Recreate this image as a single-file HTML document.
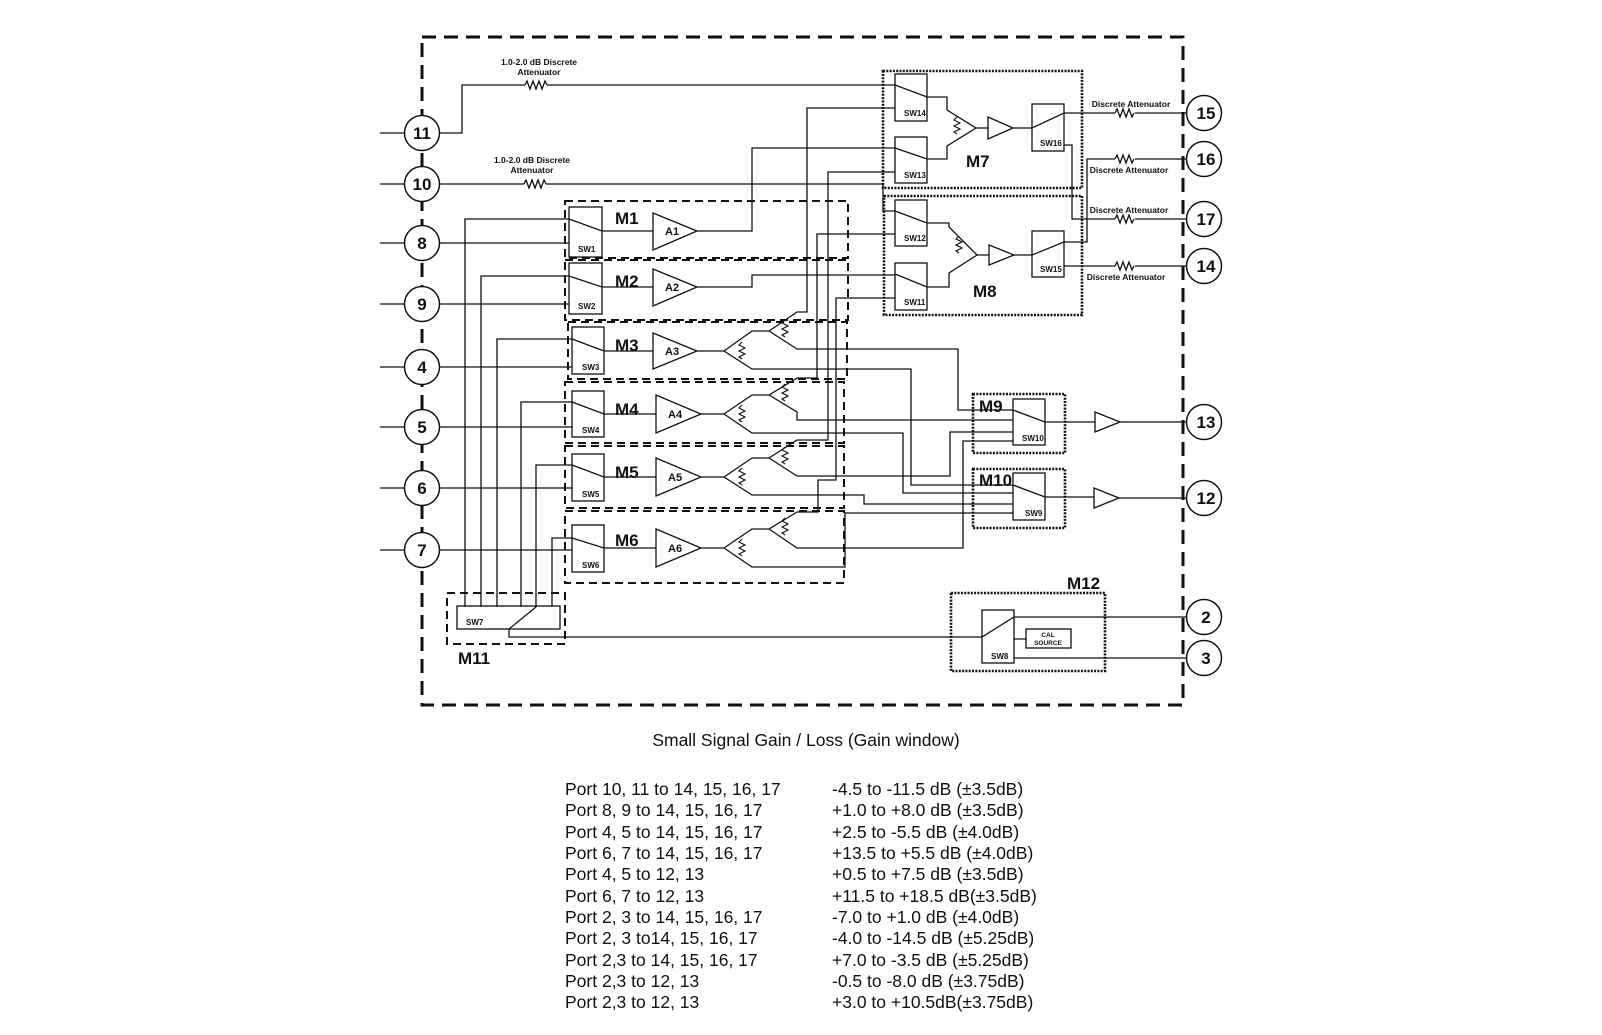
<!DOCTYPE html>
<html><head><meta charset="utf-8"><style>
html,body{margin:0;padding:0;background:#fff;}
svg{display:block;}
text{font-family:"Liberation Sans",Arial,sans-serif;fill:#111;}
.b{font-weight:bold;}
</style></head><body>
<svg width="1602" height="1035" viewBox="0 0 1602 1035" xmlns="http://www.w3.org/2000/svg">
<defs>
<g id="zzv"><path d="M0,0 l-3,3 l6,3 l-6,3 l6,3 l-6,3 l3,2" fill="none" stroke="#111" stroke-width="1.1"/></g>
</defs>
<g fill="none" stroke="#111" stroke-width="1.3">
<rect x="422" y="37" width="761" height="668" stroke-width="3" stroke-dasharray="14 8"/>
<g stroke-width="2" stroke-dasharray="8 5">
<rect x="565" y="201" width="283" height="57"/>
<rect x="565" y="260" width="283" height="60"/>
<rect x="568" y="322" width="279" height="57"/>
<rect x="565" y="382" width="279" height="61"/>
<rect x="565" y="446" width="279" height="62"/>
<rect x="565" y="511" width="279" height="72"/>
<rect x="447" y="593" width="118" height="51"/>
</g>
<g stroke-width="2.6" stroke-dasharray="2 1.3">
<rect x="883" y="71" width="199" height="117"/>
<rect x="884" y="196" width="198" height="119"/>
<rect x="973" y="394" width="92" height="59"/>
<rect x="973" y="469" width="92" height="59"/>
<rect x="951" y="593" width="154" height="78"/>
</g>
<path d="M380,133H404 M380,184H404 M380,243H404 M380,304H404 M380,367H404 M380,427H404 M380,488H404 M380,550H404"/>
<path d="M440,133H462V85H525 M547,85H895"/>
<path d="M525,85 l2,-4 l3,8 l3,-8 l3,8 l3,-8 l3,8 l3,-8 l2,4"/>
<path d="M440,184H524 M546,184H883V211H895"/>
<path d="M524,184 l2,-4 l3,8 l3,-8 l3,8 l3,-8 l3,8 l3,-8 l2,4"/>
<path d="M440,243H569 M440,304H569 M440,367H572 M440,427H572 M440,488H572 M440,550H572"/>
<path d="M465,607V219H569 M481,607V276H569 M497,607V339H572 M521,607V402H572 M536,607V465H572 M552,607V538H572"/>
<rect x="569" y="207" width="33" height="50"/>
<rect x="569" y="263" width="33" height="51"/>
<rect x="572" y="327" width="32" height="47"/>
<rect x="572" y="391" width="32" height="46"/>
<rect x="572" y="454" width="32" height="47"/>
<rect x="572" y="525" width="32" height="47"/>
<path d="M569,219L602,231H653 M569,276L602,287H653 M572,339L604,351H653 M572,402L604,414H656 M572,465L604,477H656 M572,538L604,548H656"/>
<path d="M653,213L697,231L653,250Z M653,269L697,287L653,306Z M653,333L697,351L653,369Z M656,395L701,414L656,433Z M656,458L701,477L656,496Z M656,529L701,548L656,567Z"/>
<path d="M697,231H752V148H895 M697,287H752V275H895"/>
<path d="M697,351H724 M724,351L752,331H769L797,312H807V108H895 M724,351L752,369H911V485H1013 M769,331L797,349H958V410H1013"/>
<path d="M701,414H724 M724,414L752,395H769L797,378H817V234H895 M724,414L752,433H903V493H1013 M769,395L797,412V420H1013"/>
<path d="M701,477H724 M724,477L752,458H769L797,440H828V172H895 M724,477L752,495H864V504H1013 M769,458L797,476H950V432H1013"/>
<path d="M701,548H724 M724,548L752,529H769L797,512H818V480H836V298H895 M724,548L752,567H845V513H1013 M769,529L797,548H963V441H1013"/>
<use href="#zzv" x="742" y="342"/><use href="#zzv" x="785" y="320"/>
<use href="#zzv" x="742" y="405"/><use href="#zzv" x="785" y="384"/>
<use href="#zzv" x="742" y="468"/><use href="#zzv" x="785" y="447"/>
<use href="#zzv" x="742" y="539"/><use href="#zzv" x="785" y="518"/>
<rect x="895" y="74" width="32" height="47"/>
<rect x="895" y="137" width="32" height="46"/>
<path d="M895,85L927,97H947V110L976,128L947,146V159H927L895,148"/>
<use href="#zzv" x="957" y="117"/>
<path d="M976,128H988 M988,117L1013,128L988,139Z M1013,128H1032L1064,113H1115 M1135,113H1186"/>
<path d="M1115,113 l2,-4 l3,8 l3,-8 l3,8 l3,-8 l3,8 l2,-4"/>
<rect x="1032" y="104" width="32" height="47"/>
<path d="M1064,145H1072V219H1115 M1135,219H1186"/>
<path d="M1115,219 l2,-4 l3,8 l3,-8 l3,8 l3,-8 l3,8 l2,-4"/>
<rect x="895" y="200" width="32" height="46"/>
<rect x="895" y="263" width="32" height="47"/>
<path d="M895,211L927,223H949V227L977,255L949,273V287H927L895,274"/>
<use href="#zzv" x="959" y="236"/>
<path d="M977,255H989 M989,245L1014,255L989,265Z M1014,255H1032L1064,242H1087V159H1115 M1135,159H1186"/>
<path d="M1115,159 l2,-4 l3,8 l3,-8 l3,8 l3,-8 l3,8 l2,-4"/>
<rect x="1032" y="231" width="32" height="46"/>
<path d="M1064,266H1115 M1135,266H1186"/>
<path d="M1115,266 l2,-4 l3,8 l3,-8 l3,8 l3,-8 l3,8 l2,-4"/>
<rect x="1013" y="399" width="32" height="46"/>
<rect x="1013" y="473" width="32" height="47"/>
<path d="M1013,410L1045,422H1095 M1095,412L1120,422L1095,432Z M1120,422H1186"/>
<path d="M1013,485L1045,497H1094 M1094,488L1119,498L1094,508Z M1119,498H1186"/>
<rect x="457" y="606" width="103" height="23"/>
<path d="M536,607L509,629V637H982L1014,617H1186 M1014,639H1026 M1014,658H1186"/>
<rect x="982" y="610" width="32" height="53"/>
<rect x="1026" y="629" width="45" height="19"/>
<g stroke-width="1.5" fill="#fff">
<circle cx="422" cy="133" r="17.5"/><circle cx="422" cy="184" r="17.5"/>
<circle cx="422" cy="243" r="17.5"/><circle cx="422" cy="304" r="17.5"/>
<circle cx="422" cy="367" r="17.5"/><circle cx="422" cy="427" r="17.5"/>
<circle cx="422" cy="488" r="17.5"/><circle cx="422" cy="550" r="17.5"/>
<circle cx="1204" cy="113" r="17.5"/><circle cx="1204" cy="159" r="17.5"/>
<circle cx="1204" cy="219" r="17.5"/><circle cx="1204" cy="266" r="17.5"/>
<circle cx="1204" cy="422" r="17.5"/><circle cx="1204" cy="498" r="17.5"/>
<circle cx="1204" cy="617" r="17.5"/><circle cx="1204" cy="658" r="17.5"/>
</g>
</g>
<g class="b" font-size="17" text-anchor="middle">
<text x="422" y="139">11</text><text x="422" y="190">10</text>
<text x="422" y="249">8</text><text x="422" y="310">9</text>
<text x="422" y="373">4</text><text x="422" y="433">5</text>
<text x="422" y="494">6</text><text x="422" y="556">7</text>
<text x="1206" y="119">15</text><text x="1206" y="165">16</text>
<text x="1206" y="225">17</text><text x="1206" y="272">14</text>
<text x="1206" y="428">13</text><text x="1206" y="504">12</text>
<text x="1206" y="623">2</text><text x="1206" y="664">3</text>
</g>
<g class="b" font-size="17">
<text x="615" y="224">M1</text><text x="615" y="287">M2</text>
<text x="615" y="351">M3</text><text x="615" y="415">M4</text>
<text x="615" y="478">M5</text><text x="615" y="546">M6</text>
<text x="966" y="167">M7</text><text x="973" y="297">M8</text>
<text x="979" y="412">M9</text><text x="979" y="486">M10</text>
<text x="1067" y="589">M12</text><text x="458" y="664">M11</text>
</g>
<g class="b" font-size="11">
<text x="665" y="235">A1</text><text x="665" y="291">A2</text>
<text x="665" y="355">A3</text><text x="668" y="418">A4</text>
<text x="668" y="481">A5</text><text x="668" y="552">A6</text>
</g>
<g class="b" font-size="8">
<text x="578" y="252">SW1</text><text x="578" y="309">SW2</text>
<text x="582" y="370">SW3</text><text x="582" y="433">SW4</text>
<text x="582" y="497">SW5</text><text x="582" y="568">SW6</text>
<text x="904" y="116">SW14</text><text x="904" y="178">SW13</text>
<text x="904" y="241">SW12</text><text x="904" y="305">SW11</text>
<text x="1040" y="146">SW16</text><text x="1040" y="272">SW15</text>
<text x="1022" y="441">SW10</text><text x="1025" y="516">SW9</text>
<text x="466" y="625">SW7</text><text x="991" y="659">SW8</text>
</g>
<g class="b" font-size="6.5" text-anchor="middle">
<text x="1048" y="637">CAL</text><text x="1048" y="645">SOURCE</text>
</g>
<g class="b" font-size="8.5" text-anchor="middle">
<text x="539" y="65">1.0-2.0 dB Discrete</text><text x="539" y="75">Attenuator</text>
<text x="532" y="163">1.0-2.0 dB Discrete</text><text x="532" y="173">Attenuator</text>
<text x="1131" y="107">Discrete Attenuator</text>
<text x="1129" y="173">Discrete Attenuator</text>
<text x="1129" y="213">Discrete Attenuator</text>
<text x="1126" y="280">Discrete Attenuator</text>
</g>
<text x="806" y="746" font-size="17.5" text-anchor="middle">Small Signal Gain / Loss (Gain window)</text>
<g font-size="17.5">
<text x="565" y="795">Port 10, 11 to 14, 15, 16, 17</text><text x="832" y="795">-4.5  to -11.5 dB (±3.5dB)</text>
<text x="565" y="816">Port 8, 9 to 14, 15, 16, 17</text><text x="832" y="816">+1.0 to +8.0 dB (±3.5dB)</text>
<text x="565" y="838">Port 4, 5 to 14, 15, 16, 17</text><text x="832" y="838">+2.5 to -5.5 dB (±4.0dB)</text>
<text x="565" y="859">Port 6, 7 to 14, 15, 16, 17</text><text x="832" y="859">+13.5 to +5.5 dB (±4.0dB)</text>
<text x="565" y="880">Port 4, 5 to 12, 13</text><text x="832" y="880">+0.5 to +7.5 dB (±3.5dB)</text>
<text x="565" y="902">Port 6, 7 to 12, 13</text><text x="832" y="902">+11.5 to +18.5 dB(±3.5dB)</text>
<text x="565" y="923">Port 2, 3 to 14, 15, 16, 17</text><text x="832" y="923">-7.0 to +1.0 dB (±4.0dB)</text>
<text x="565" y="944">Port 2, 3 to14, 15, 16, 17</text><text x="832" y="944">-4.0 to -14.5 dB (±5.25dB)</text>
<text x="565" y="966">Port 2,3 to 14, 15, 16, 17</text><text x="832" y="966">+7.0 to -3.5 dB (±5.25dB)</text>
<text x="565" y="987">Port 2,3 to 12, 13</text><text x="832" y="987">-0.5 to -8.0 dB (±3.75dB)</text>
<text x="565" y="1008">Port 2,3 to 12, 13</text><text x="832" y="1008">+3.0 to +10.5dB(±3.75dB)</text>
</g>
</svg>
</body></html>
